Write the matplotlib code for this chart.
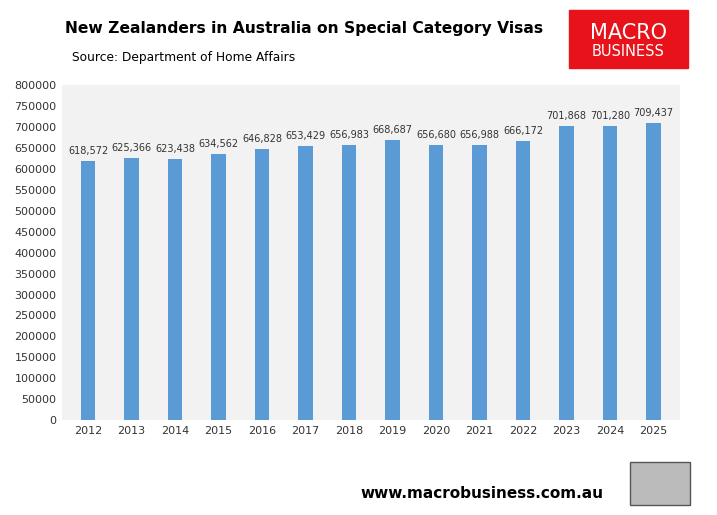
import matplotlib
matplotlib.use("Agg")
import matplotlib.pyplot as plt
from matplotlib.patches import Rectangle

years = ["2012","2013","2014","2015","2016","2017","2018","2019","2020","2021","2022","2023","2024","2025"]
values = [618572,625366,623438,634562,646828,653429,656983,668687,656680,656988,666172,701868,701280,709437]

fig = plt.figure(figsize=(7.17,5.15), dpi=100)
ax = fig.add_axes([0.0865,0.184,0.8615,0.651])
ax.set_facecolor("#f2f2f2")
x = range(len(years))
ax.bar(x, values, width=0.33, color="#5b9bd5")
for i,v in zip(x,values):
    ax.text(i, v+12000, f"{v:,}", ha="center", va="bottom", fontsize=7, color="#333333")
ax.set_xticks(list(x)); ax.set_xticklabels(years, fontsize=8, color="#333333")
ax.set_yticks(range(0,800001,50000))
ax.set_yticklabels([str(t) for t in range(0,800001,50000)], fontsize=8, color="#333333")
ax.set_ylim(0,800000); ax.set_xlim(-0.6,13.6)
for s in ax.spines.values(): s.set_visible(False)
ax.tick_params(length=0, pad=4)

fig.text(65/717, 1-28/515, "New Zealanders in Australia on Special Category Visas", fontsize=11.2, fontweight="bold", va="center")
fig.text(72/717, 1-58/515, "Source: Department of Home Affairs", fontsize=8.8, va="center")
fig.patches.append(Rectangle((569/717,1-68/515),119/717,58/515, transform=fig.transFigure, color="#e8121a", figure=fig))
fig.text(628/717,1-33/515,"MACRO",color="white",fontsize=15,ha="center",va="center")
fig.text(628/717,1-52/515,"BUSINESS",color="white",fontsize=10.5,ha="center",va="center")
fig.text(360/717,1-493/515,"www.macrobusiness.com.au",fontsize=11,fontweight="bold",va="center")
fig.patches.append(Rectangle((630/717,1-505/515),60/717,43/515, transform=fig.transFigure, facecolor="#bbbbbb", edgecolor="#555555", figure=fig))
fig.savefig("out.png", dpi=100)
